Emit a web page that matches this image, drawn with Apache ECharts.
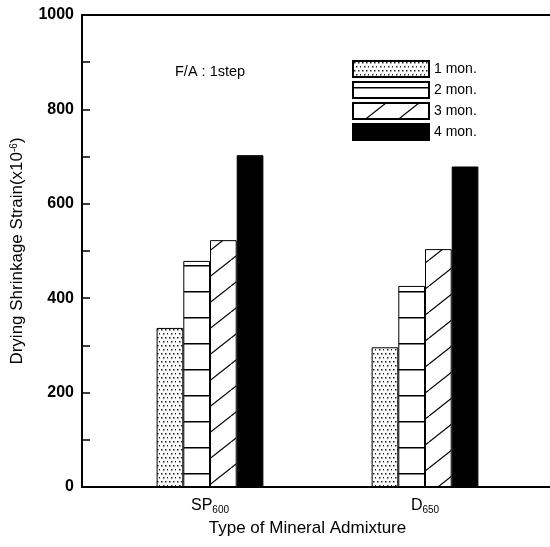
<!DOCTYPE html>
<html>
<head>
<meta charset="utf-8">
<script src="https://cdn.jsdelivr.net/npm/echarts@6/dist/echarts.min.js"></script>
<style>
    html, body { margin: 0; padding: 0; background: #fff; }
    #chart { width: 550px; height: 547px; }
</style>
</head>
<body>
<div id="chart"></div>
<script>
    // data
    var categories = ['SP600', 'D650'];
    var seriesNames = ['1 mon.', '2 mon.', '3 mon.', '4 mon.'];
    var mon1 = [337, 296];
    var mon2 = [479, 426];
    var mon3 = [523, 504];
    var mon4 = [703, 679];
    var yMin = 0, yMax = 1000, yStep = 100, yLabelStep = 200;

    // fill patterns (dots / horizontal lines / hatch)
    function makePattern(w, h, draw) {
        var c = document.createElement('canvas');
        c.width = w; c.height = h;
        var ctx = c.getContext('2d');
        ctx.fillStyle = '#fff';
        ctx.fillRect(0, 0, w, h);
        draw(ctx, w, h);
        return { image: c, repeat: 'repeat' };
    }
    var dotFill = makePattern(8, 8, function (ctx) {
        ctx.fillStyle = '#222';
        [[1, 1], [5, 1], [3, 5], [7, 5]].forEach(function (p) {
            ctx.fillRect(p[0], p[1], 1.5, 1.5);
        });
    });
    var lineFill = makePattern(10, 26, function (ctx, w) {
        ctx.fillStyle = '#000';
        ctx.fillRect(0, 5, w, 1.5);
    });
    var hatchFill = makePattern(33, 26, function (ctx, w, h) {
        ctx.strokeStyle = '#000';
        ctx.lineWidth = 1.2;
        [-w, 0, w].forEach(function (dx) {
            ctx.beginPath();
            ctx.moveTo(dx, h);
            ctx.lineTo(dx + w, 0);
            ctx.stroke();
        });
    });
    var fills = [dotFill, lineFill, hatchFill, '#000'];
    var values = [mon1, mon2, mon3, mon4];

    var font = 'Liberation Sans, Arial, sans-serif';
    var myChart = echarts.init(document.getElementById('chart'));

    var option = {
        backgroundColor: '#fff',
        animation: false,
        textStyle: { fontFamily: font, color: '#000' },
        title: {
            text: 'F/A : 1step',
            left: 175, top: 64, padding: 0,
            textStyle: { fontSize: 14.5, fontWeight: 'normal', color: '#000', fontFamily: font }
        },
        legend: {
            data: seriesNames,
            orient: 'vertical',
            left: 352, top: 60, padding: 0,
            itemWidth: 76, itemHeight: 16, itemGap: 3,
            icon: 'rect',
            textStyle: { fontSize: 14, color: '#000', fontFamily: font }
        },
        grid: [
            // frame grid (runs past the right edge, as in the scan)
            { left: 82, top: 15, bottom: 60, right: -40 },
            // bar grid
            { left: 102.5, top: 15, bottom: 60, right: 17.5 }
        ],
        xAxis: [
            {
                gridIndex: 0, type: 'value', min: 0, max: 1, position: 'bottom',
                axisLine: { lineStyle: { color: '#000', width: 2 } },
                axisTick: { show: false }, axisLabel: { show: false }, splitLine: { show: false }
            },
            {
                gridIndex: 0, type: 'value', min: 0, max: 1, position: 'top',
                axisLine: { lineStyle: { color: '#000', width: 2 } },
                axisTick: { show: false }, axisLabel: { show: false }, splitLine: { show: false }
            },
            {
                gridIndex: 1, type: 'category', data: categories,
                axisLine: { show: false }, axisTick: { show: false },
                axisLabel: {
                    margin: 10,
                    formatter: function (v) {
                        var m = v.match(/^([A-Z]+)(\d+)$/);
                        return '{a|' + m[1] + '}{s|' + m[2] + '}';
                    },
                    rich: {
                        a: { fontSize: 16, fontFamily: font, color: '#000' },
                        s: { fontSize: 10, fontFamily: font, color: '#000', verticalAlign: 'bottom', padding: [8, 0, 0, 0] }
                    }
                },
                name: 'Type of Mineral Admixture',
                nameLocation: 'middle', nameGap: 33,
                nameTextStyle: { fontSize: 17, fontFamily: font, color: '#000', padding: [0, 20, 0, 0] }
            }
        ],
        yAxis: [
            {
                gridIndex: 0, type: 'value', min: yMin, max: yMax, interval: yStep,
                axisLine: { show: true, lineStyle: { color: '#000', width: 2 } },
                axisTick: { show: true, inside: true, length: 8, lineStyle: { color: '#000', width: 1.5 } },
                axisLabel: {
                    margin: 8, fontSize: 16, fontWeight: 'bold', color: '#000', fontFamily: font,
                    formatter: function (v) { return v % yLabelStep === 0 ? String(v) : ''; }
                },
                splitLine: { show: false },
                name: '{a|Drying Shrinkage Strain(x10}{s|-6}{a|)}',
                nameLocation: 'middle', nameGap: 56,
                nameTextStyle: {
                    rich: {
                        a: { fontSize: 17, fontFamily: font, color: '#000' },
                        s: { fontSize: 10, fontFamily: font, color: '#000', verticalAlign: 'top', padding: [0, 0, 6, 0] }
                    }
                }
            },
            { gridIndex: 1, type: 'value', min: yMin, max: yMax, show: false }
        ],
        series: seriesNames.map(function (name, i) {
            return {
                name: name,
                type: 'bar',
                xAxisIndex: 2,
                yAxisIndex: 1,
                barWidth: 26.7,
                barGap: '0%',
                data: values[i],
                itemStyle: { color: fills[i], borderColor: '#000', borderWidth: 1 }
            };
        })
    };
    myChart.setOption(option);
</script>
</body>
</html>
